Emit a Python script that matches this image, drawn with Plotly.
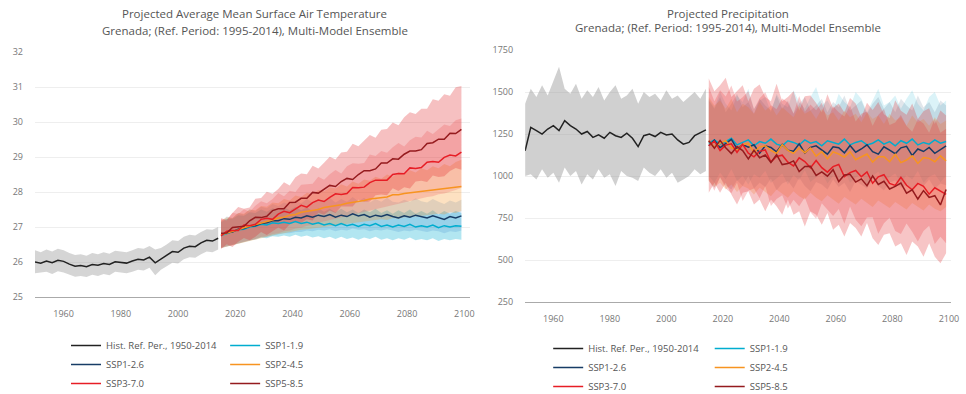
import plotly.graph_objects as go

# ---------------- data ----------------
HIST_YEARS = list(range(1950, 2015, 2))   # 33 points
FUT_YEARS = list(range(2015, 2100, 2))    # 43 points
X_TICKS = [1960, 1980, 2000, 2020, 2040, 2060, 2080, 2100]
SCENARIOS = ["SSP1-1.9", "SSP1-2.6", "SSP2-4.5", "SSP3-7.0", "SSP5-8.5"]
HIST_NAME = "Hist. Ref. Per., 1950-2014"

# --- temperature (deg C) ---
T_HIST_MEAN = [26.00, 25.97, 26.03, 25.98, 26.05, 26.02, 25.94, 25.88, 25.90, 25.87,
               25.93, 25.91, 25.96, 25.93, 26.01, 25.99, 25.97, 26.03, 26.08, 26.06,
               26.14, 25.98, 26.08, 26.18, 26.30, 26.28, 26.40, 26.45, 26.44, 26.55,
               26.62, 26.60, 26.68]
T_HIST_LO = [25.68, 25.70, 25.72, 25.66, 25.74, 25.70, 25.64, 25.58, 25.60, 25.57,
             25.64, 25.60, 25.66, 25.62, 25.72, 25.70, 25.68, 25.72, 25.78, 25.76,
             25.84, 25.62, 25.78, 25.88, 25.98, 25.96, 26.08, 26.14, 26.12, 26.22,
             26.30, 26.28, 26.36]
T_HIST_HI = [26.34, 26.28, 26.36, 26.30, 26.38, 26.34, 26.26, 26.20, 26.22, 26.18,
             26.26, 26.22, 26.28, 26.24, 26.32, 26.30, 26.28, 26.34, 26.40, 26.38,
             26.46, 26.36, 26.40, 26.50, 26.62, 26.60, 26.72, 26.78, 26.76, 26.86,
             26.94, 26.92, 27.00]

T_119_MEAN = [26.76, 26.82, 26.86, 26.92, 26.94, 27.00, 27.02, 27.08, 27.06, 27.12,
              27.10, 27.14, 27.10, 27.16, 27.10, 27.14, 27.08, 27.12, 27.06, 27.10,
              27.04, 27.10, 27.04, 27.08, 27.02, 27.08, 27.04, 27.10, 27.02, 27.06,
              27.00, 27.06, 27.02, 27.08, 27.00, 27.04, 27.00, 27.06, 26.98, 27.04,
              27.00, 27.04, 27.02]
T_119_LO = [26.40, 26.44, 26.48, 26.54, 26.56, 26.62, 26.64, 26.70, 26.68, 26.74,
            26.72, 26.76, 26.72, 26.78, 26.72, 26.76, 26.70, 26.74, 26.68, 26.72,
            26.66, 26.72, 26.66, 26.70, 26.64, 26.70, 26.66, 26.72, 26.64, 26.68,
            26.62, 26.68, 26.64, 26.70, 26.62, 26.66, 26.62, 26.68, 26.60, 26.66,
            26.62, 26.66, 26.64]
T_119_HI = [27.14, 27.24, 27.24, 27.34, 27.32, 27.42, 27.40, 27.50, 27.44, 27.54,
            27.48, 27.56, 27.48, 27.58, 27.48, 27.56, 27.46, 27.54, 27.44, 27.52,
            27.42, 27.52, 27.42, 27.50, 27.40, 27.50, 27.42, 27.52, 27.40, 27.48,
            27.38, 27.48, 27.40, 27.50, 27.38, 27.46, 27.38, 27.48, 27.36, 27.46,
            27.38, 27.46, 27.40]

T_126_MEAN = [26.78, 26.84, 26.86, 26.94, 26.96, 27.02, 27.04, 27.10, 27.12, 27.18,
              27.18, 27.24, 27.22, 27.28, 27.26, 27.32, 27.28, 27.34, 27.30, 27.36,
              27.28, 27.34, 27.30, 27.38, 27.32, 27.36, 27.28, 27.34, 27.30, 27.36,
              27.30, 27.26, 27.32, 27.28, 27.34, 27.30, 27.26, 27.32, 27.28, 27.22,
              27.30, 27.26, 27.32]
T_126_LO = [26.42, 26.46, 26.50, 26.56, 26.58, 26.62, 26.64, 26.70, 26.72, 26.76,
            26.78, 26.82, 26.82, 26.86, 26.86, 26.90, 26.88, 26.92, 26.90, 26.94,
            26.88, 26.92, 26.90, 26.96, 26.92, 26.94, 26.88, 26.92, 26.90, 26.94,
            26.90, 26.86, 26.90, 26.88, 26.92, 26.90, 26.86, 26.90, 26.88, 26.82,
            26.88, 26.86, 26.90]
T_126_HI = [27.16, 27.30, 27.26, 27.40, 27.36, 27.50, 27.46, 27.58, 27.54, 27.66,
            27.60, 27.70, 27.64, 27.76, 27.68, 27.80, 27.70, 27.80, 27.72, 27.84,
            27.70, 27.80, 27.72, 27.86, 27.74, 27.84, 27.70, 27.80, 27.72, 27.84,
            27.72, 27.70, 27.78, 27.72, 27.82, 27.74, 27.70, 27.80, 27.72, 27.66,
            27.76, 27.70, 27.78]

T_245_MEAN = [26.78, 26.82, 26.88, 26.92, 26.98, 27.02, 27.08, 27.10, 27.16, 27.20,
              27.26, 27.28, 27.34, 27.36, 27.42, 27.44, 27.48, 27.50, 27.56, 27.58,
              27.62, 27.64, 27.68, 27.70, 27.74, 27.76, 27.80, 27.82, 27.86, 27.86,
              27.92, 27.92, 27.96, 27.98, 28.00, 28.02, 28.04, 28.06, 28.08, 28.08,
              28.12, 28.12, 28.16]
T_245_LO = [26.40, 26.44, 26.48, 26.52, 26.58, 26.60, 26.66, 26.68, 26.72, 26.76,
            26.80, 26.82, 26.86, 26.88, 26.92, 26.94, 26.96, 26.98, 27.02, 27.02,
            27.06, 27.06, 27.10, 27.10, 27.14, 27.14, 27.18, 27.18, 27.22, 27.20,
            27.26, 27.24, 27.28, 27.28, 27.30, 27.32, 27.34, 27.34, 27.38, 27.36,
            27.42, 27.40, 27.46]
T_245_HI = [27.18, 27.28, 27.26, 27.40, 27.38, 27.50, 27.48, 27.60, 27.58, 27.70,
            27.68, 27.80, 27.76, 27.90, 27.86, 27.98, 27.94, 28.06, 28.02, 28.14,
            28.10, 28.22, 28.16, 28.30, 28.24, 28.36, 28.32, 28.44, 28.38, 28.50,
            28.44, 28.56, 28.50, 28.62, 28.56, 28.68, 28.62, 28.74, 28.68, 28.80,
            28.74, 28.86, 28.92]

T_370_MEAN = [26.75, 26.88, 26.90, 26.90, 27.06, 27.04, 27.08, 27.22, 27.25, 27.22,
              27.37, 27.45, 27.41, 27.51, 27.62, 27.57, 27.70, 27.77, 27.73, 27.85,
              27.95, 27.93, 27.96, 28.13, 28.12, 28.14, 28.27, 28.34, 28.33, 28.34,
              28.50, 28.53, 28.52, 28.69, 28.67, 28.70, 28.85, 28.87, 28.85, 28.99,
              29.06, 29.03, 29.14]
T_370_LO = [26.40, 26.44, 26.48, 26.54, 26.56, 26.62, 26.66, 26.72, 26.74, 26.80,
            26.82, 26.88, 26.90, 26.96, 26.98, 27.04, 27.06, 27.12, 27.16, 27.20,
            27.24, 27.28, 27.32, 27.36, 27.40, 27.44, 27.48, 27.52, 27.56, 27.60,
            27.64, 27.66, 27.72, 27.74, 27.78, 27.82, 27.86, 27.88, 27.94, 27.96,
            28.00, 28.06, 28.12]
T_370_HI = [27.22, 27.18, 27.41, 27.37, 27.51, 27.44, 27.61, 27.74, 27.68, 27.80,
            27.97, 27.88, 28.04, 28.00, 28.21, 28.23, 28.24, 28.44, 28.35, 28.51,
            28.63, 28.53, 28.74, 28.82, 28.81, 28.83, 29.07, 29.03, 29.17, 29.12,
            29.28, 29.40, 29.30, 29.48, 29.58, 29.56, 29.75, 29.66, 29.80, 29.93,
            29.89, 30.05, 30.10]

T_585_MEAN = [26.82, 26.83, 26.99, 27.01, 27.02, 27.18, 27.28, 27.27, 27.31, 27.47,
              27.52, 27.52, 27.70, 27.71, 27.82, 27.82, 27.99, 27.97, 28.07, 28.19,
              28.16, 28.30, 28.39, 28.36, 28.50, 28.61, 28.61, 28.66, 28.83, 28.83,
              28.95, 28.94, 29.08, 29.17, 29.17, 29.21, 29.39, 29.41, 29.51, 29.51,
              29.68, 29.67, 29.79]
T_585_LO = [26.37, 26.51, 26.43, 26.58, 26.69, 26.62, 26.72, 26.86, 26.77, 26.87,
            26.99, 26.90, 27.08, 27.17, 27.12, 27.22, 27.19, 27.41, 27.35, 27.47,
            27.40, 27.59, 27.59, 27.59, 27.78, 27.72, 27.73, 27.91, 27.93, 27.91,
            28.11, 28.03, 28.14, 28.10, 28.30, 28.32, 28.29, 28.47, 28.43, 28.45,
            28.60, 28.69, 28.64]
T_585_HI = [27.25, 27.21, 27.40, 27.57, 27.52, 27.56, 27.81, 27.83, 28.01, 27.95,
            28.09, 28.28, 28.19, 28.42, 28.53, 28.51, 28.75, 28.67, 28.84, 29.01,
            28.93, 29.13, 29.15, 29.38, 29.31, 29.48, 29.63, 29.55, 29.78, 29.80,
            29.99, 29.91, 30.14, 30.28, 30.23, 30.38, 30.38, 30.65, 30.61, 30.79,
            30.75, 30.99, 31.03]
T_TICKS = [25, 26, 27, 28, 29, 30, 31, 32]

# --- precipitation (mm) ---
P_HIST_MEAN = [1150, 1290, 1270, 1250, 1280, 1300, 1270, 1330, 1300, 1280,
               1250, 1265, 1230, 1245, 1225, 1260, 1240, 1230, 1255, 1225,
               1175, 1240, 1250, 1235, 1260, 1245, 1250, 1215, 1190, 1200,
               1240, 1260, 1275]
P_HIST_LO = [1000, 1010, 980, 1040, 990, 1020, 960, 1050, 1000, 1030,
             950, 1010, 980, 1040, 990, 1010, 940, 1030, 1000, 990,
             970, 1050, 1020, 1000, 1040, 990, 1020, 960, 980, 1000,
             1040, 1010, 1030]
P_HIST_HI = [1430, 1520, 1470, 1540, 1480, 1560, 1650, 1520, 1490, 1550,
             1460, 1510, 1470, 1530, 1450, 1500, 1540, 1460, 1480, 1520,
             1430, 1500, 1470, 1490, 1450, 1510, 1460, 1480, 1440, 1470,
             1500, 1460, 1520]

P_119_MEAN = [1195, 1215, 1190, 1205, 1225, 1185, 1200, 1215, 1180, 1205,
              1195, 1220, 1190, 1180, 1210, 1200, 1185, 1215, 1195, 1205,
              1180, 1210, 1200, 1190, 1220, 1185, 1200, 1210, 1185, 1195,
              1215, 1190, 1205, 1180, 1210, 1195, 1220, 1185, 1200, 1190,
              1215, 1195, 1205]
P_119_LO = [1000, 960, 1020, 980, 1040, 970, 1000, 950, 1010, 990,
            1030, 960, 985, 1015, 950, 1005, 975, 1035, 965, 995,
            1020, 955, 1000, 980, 1030, 960, 990, 1010, 945, 1000,
            1025, 970, 990, 1015, 955, 1005, 980, 1030, 960, 995,
            1010, 965, 1000]
P_119_HI = [1460, 1410, 1500, 1430, 1390, 1480, 1440, 1520, 1400, 1450,
            1470, 1380, 1490, 1430, 1410, 1510, 1440, 1400, 1470, 1530,
            1420, 1450, 1390, 1490, 1440, 1410, 1500, 1460, 1380, 1450,
            1520, 1420, 1440, 1480, 1400, 1460, 1510, 1430, 1390, 1470,
            1500, 1420, 1450]

P_126_MEAN = [1180, 1214, 1169, 1193, 1218, 1162, 1187, 1172, 1186, 1136,
              1180, 1170, 1144, 1188, 1153, 1148, 1192, 1137, 1171, 1180,
              1155, 1130, 1174, 1168, 1138, 1182, 1142, 1161, 1186, 1145,
              1130, 1174, 1154, 1133, 1168, 1177, 1122, 1161, 1146, 1170,
              1135, 1155, 1180]
P_126_LO = [970, 930, 990, 945, 920, 975, 940, 1000, 925, 960,
            935, 985, 915, 955, 970, 925, 990, 940, 910, 965,
            950, 920, 980, 935, 960, 905, 970, 945, 925, 985,
            940, 915, 960, 975, 930, 950, 910, 965, 940, 980,
            925, 955, 945]
P_126_HI = [1450, 1400, 1470, 1380, 1430, 1490, 1410, 1440, 1370, 1460,
            1420, 1390, 1480, 1400, 1450, 1370, 1430, 1470, 1390, 1420,
            1460, 1380, 1440, 1410, 1480, 1390, 1420, 1450, 1370, 1430,
            1470, 1400, 1440, 1380, 1460, 1420, 1390, 1480, 1410, 1440,
            1380, 1450, 1420]

P_245_MEAN = [1210, 1172, 1194, 1211, 1168, 1155, 1187, 1194, 1141, 1173,
              1180, 1152, 1134, 1186, 1153, 1135, 1167, 1139, 1166, 1118,
              1145, 1102, 1144, 1131, 1113, 1145, 1097, 1114, 1131, 1083,
              1115, 1115, 1085, 1130, 1080, 1095, 1120, 1075, 1110, 1105,
              1085, 1120, 1090]
P_245_LO = [970, 935, 960, 920, 950, 905, 940, 925, 890, 930,
            905, 880, 920, 895, 870, 910, 880, 860, 900, 870,
            850, 885, 860, 835, 875, 850, 830, 865, 840, 815,
            855, 830, 810, 845, 820, 800, 840, 815, 795, 830,
            805, 790, 815]
P_245_HI = [1470, 1420, 1450, 1400, 1460, 1380, 1430, 1410, 1370, 1440,
            1390, 1420, 1360, 1410, 1380, 1350, 1420, 1370, 1390, 1340,
            1400, 1360, 1380, 1330, 1390, 1350, 1370, 1320, 1380, 1340,
            1360, 1310, 1370, 1330, 1350, 1300, 1360, 1320, 1340, 1300,
            1350, 1310, 1330]

P_370_MEAN = [1180, 1208, 1151, 1184, 1192, 1140, 1188, 1136, 1114, 1147,
              1155, 1083, 1116, 1124, 1082, 1060, 1108, 1086, 1049, 1092,
              1050, 1023, 1056, 1069, 997, 1020, 1033, 996, 1024, 957,
              995, 1008, 956, 944, 992, 945, 918, 956, 939, 892,
              930, 913, 891]
P_370_LO = [980, 912, 994, 926, 898, 960, 851, 913, 925, 867,
            939, 821, 863, 885, 807, 859, 820, 872, 784, 746,
            838, 800, 762, 804, 716, 818, 739, 701, 753, 755,
            657, 719, 751, 673, 655, 717, 668, 610, 672, 704,
            596, 638, 600]
P_370_HI = [1530, 1445, 1510, 1474, 1539, 1444, 1469, 1504, 1398, 1463,
            1498, 1423, 1398, 1462, 1437, 1372, 1477, 1382, 1426, 1391,
            1436, 1331, 1416, 1380, 1355, 1420, 1325, 1370, 1384, 1299,
            1364, 1399, 1304, 1318, 1363, 1298, 1263, 1338, 1312, 1257,
            1342, 1257, 1282]

P_585_MEAN = [1210, 1166, 1212, 1168, 1134, 1175, 1151, 1102, 1153, 1109,
              1125, 1081, 1127, 1068, 1074, 1090, 1026, 1057, 1058, 1004,
              1025, 999, 1038, 967, 1006, 1010, 964, 983, 942, 1001,
              950, 969, 923, 938, 958, 898, 918, 863, 913, 873,
              883, 828, 920]
P_585_LO = [900, 960, 900, 960, 890, 830, 900, 910, 830, 860,
            790, 860, 820, 770, 860, 770, 790, 700, 790, 770,
            710, 780, 680, 710, 640, 720, 690, 640, 720, 630,
            590, 650, 660, 580, 600, 530, 610, 580, 520, 600,
            520, 480, 540]
P_585_HI = [1580, 1505, 1540, 1585, 1470, 1505, 1540, 1445, 1520, 1545,
            1470, 1445, 1550, 1445, 1470, 1505, 1390, 1475, 1480, 1435,
            1380, 1487, 1404, 1431, 1378, 1465, 1432, 1349, 1436, 1393,
            1440, 1367, 1344, 1451, 1388, 1365, 1432, 1339, 1386, 1403,
            1310, 1390, 1360]
P_TICKS = [250, 500, 750, 1000, 1250, 1500, 1750]

# ---------------- styles ----------------
LINE_COLORS = {"SSP1-1.9": "#00ADCF", "SSP1-2.6": "#173C66", "SSP2-4.5": "#F79420",
               "SSP3-7.0": "#E71D25", "SSP5-8.5": "#951B1E"}
T_FILLS = {"SSP1-1.9": "rgba(0,173,207,0.30)", "SSP1-2.6": "rgba(40,120,200,0.18)",
           "SSP2-4.5": "rgba(247,148,32,0.28)", "SSP3-7.0": "rgba(240,90,90,0.25)",
           "SSP5-8.5": "rgba(225,45,50,0.30)"}
P_FILLS = {"SSP1-1.9": "rgba(0,173,207,0.14)", "SSP1-2.6": "rgba(23,60,102,0.13)",
           "SSP2-4.5": "rgba(247,148,32,0.22)", "SSP3-7.0": "rgba(231,29,37,0.22)",
           "SSP5-8.5": "rgba(225,45,50,0.28)"}
FONT = "Open Sans"

fig = go.Figure()


def add_chart(xa, ya, hist, fut, legends, hist_fill, fills):
    h_mean, h_lo, h_hi = hist
    fig.add_trace(go.Scatter(x=HIST_YEARS, y=h_lo, mode="lines", line=dict(width=0),
                             showlegend=False, hoverinfo="skip", xaxis=xa, yaxis=ya))
    fig.add_trace(go.Scatter(x=HIST_YEARS, y=h_hi, mode="lines", line=dict(width=0),
                             fill="tonexty", fillcolor=hist_fill, showlegend=False,
                             hoverinfo="skip", xaxis=xa, yaxis=ya))
    for s in SCENARIOS:
        mean, lo, hi = fut[s]
        fig.add_trace(go.Scatter(x=FUT_YEARS, y=lo, mode="lines", line=dict(width=0),
                                 showlegend=False, hoverinfo="skip", xaxis=xa, yaxis=ya))
        fig.add_trace(go.Scatter(x=FUT_YEARS, y=hi, mode="lines", line=dict(width=0),
                                 fill="tonexty", fillcolor=fills[s], showlegend=False,
                                 hoverinfo="skip", xaxis=xa, yaxis=ya))
    fig.add_trace(go.Scatter(x=HIST_YEARS, y=h_mean, mode="lines", name=HIST_NAME,
                             line=dict(color="#222222", width=1.5), legend=legends[0],
                             xaxis=xa, yaxis=ya))
    for i, s in enumerate(SCENARIOS):
        mean = fut[s][0]
        col = legends[1] if i % 2 == 0 else legends[0]
        fig.add_trace(go.Scatter(x=FUT_YEARS, y=mean, mode="lines", name=s,
                                 line=dict(color=LINE_COLORS[s], width=1.5), legend=col,
                                 xaxis=xa, yaxis=ya))


add_chart("x", "y", (T_HIST_MEAN, T_HIST_LO, T_HIST_HI),
          {"SSP1-1.9": (T_119_MEAN, T_119_LO, T_119_HI),
           "SSP1-2.6": (T_126_MEAN, T_126_LO, T_126_HI),
           "SSP2-4.5": (T_245_MEAN, T_245_LO, T_245_HI),
           "SSP3-7.0": (T_370_MEAN, T_370_LO, T_370_HI),
           "SSP5-8.5": (T_585_MEAN, T_585_LO, T_585_HI)},
          ("legend", "legend2"), "rgba(150,150,150,0.40)", T_FILLS)
add_chart("x2", "y2", (P_HIST_MEAN, P_HIST_LO, P_HIST_HI),
          {"SSP1-1.9": (P_119_MEAN, P_119_LO, P_119_HI),
           "SSP1-2.6": (P_126_MEAN, P_126_LO, P_126_HI),
           "SSP2-4.5": (P_245_MEAN, P_245_LO, P_245_HI),
           "SSP3-7.0": (P_370_MEAN, P_370_LO, P_370_HI),
           "SSP5-8.5": (P_585_MEAN, P_585_LO, P_585_HI)},
          ("legend3", "legend4"), "rgba(150,150,150,0.45)", P_FILLS)

tickfont = dict(family=FONT, size=9, color="#777777")
xcommon = dict(tickvals=X_TICKS, showgrid=False, showline=True, linecolor="#aaaaaa",
               linewidth=1, zeroline=False, tickfont=tickfont, ticks="",
               ticklabelstandoff=8, automargin=False)
ycommon = dict(showgrid=True, gridcolor="#eeeeee", zeroline=False, showline=False,
               tickfont=tickfont, ticks="", ticklabelstandoff=11, automargin=False)

legcommon = dict(xanchor="left", yanchor="top", orientation="v", bgcolor="rgba(0,0,0,0)",
                 font=dict(family=FONT, size=9.5, color="#555555"), itemwidth=30,
                 tracegroupgap=0, traceorder="normal")

fig.update_layout(
    width=966, height=394,
    margin=dict(l=35, r=8, t=0, b=0, autoexpand=False),
    paper_bgcolor="white", plot_bgcolor="white",
    font=dict(family=FONT),
    hovermode=False,
    xaxis=dict(domain=[0, 0.4713], range=[1950, 2102], anchor="y", **xcommon),
    yaxis=dict(domain=[0.246, 0.868], range=[25, 32], tickvals=T_TICKS, anchor="x", **ycommon),
    xaxis2=dict(domain=[0.531, 0.992], range=[1950, 2100.6], anchor="y2", **xcommon),
    yaxis2=dict(domain=[0.2335, 0.873], range=[250, 1750], tickvals=P_TICKS, anchor="x2",
                **ycommon),
    legend=dict(x=0.0336, y=1 - 331 / 394, **legcommon),
    legend2=dict(x=0.206, y=1 - 331 / 394, **legcommon),
    legend3=dict(x=0.556, y=1 - 334 / 394, **legcommon),
    legend4=dict(x=0.731, y=1 - 334 / 394, **legcommon),
    showlegend=True,
)

title_font = dict(family=FONT, size=11.5, color="#555555")
for x, y, txt in [
    (0.238, 1 - 14 / 394, "Projected Average Mean Surface Air Temperature"),
    (0.238, 1 - 30 / 394, "Grenada; (Ref. Period: 1995-2014), Multi-Model Ensemble"),
    (0.751, 1 - 13 / 394, "Projected Precipitation"),
    (0.751, 1 - 28 / 394, "Grenada; (Ref. Period: 1995-2014), Multi-Model Ensemble"),
]:
    fig.add_annotation(x=x, y=y, xref="paper", yref="paper", text=txt, showarrow=False,
                       xanchor="center", yanchor="middle", font=title_font)

fig.write_html("out.html",
               config={"displayModeBar": False},
               post_script="document.body.style.margin='0';"
                           "document.body.style.overflow='hidden';")
